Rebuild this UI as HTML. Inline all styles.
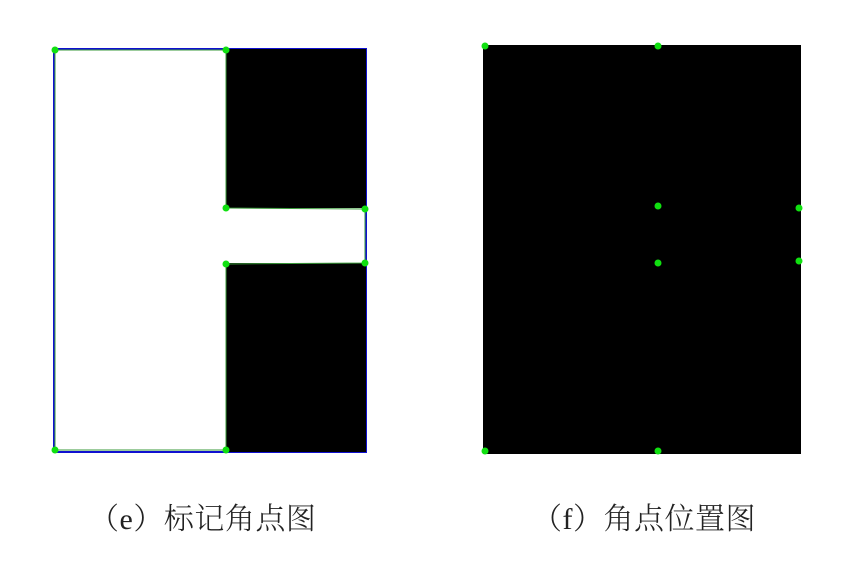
<!DOCTYPE html>
<html><head><meta charset="utf-8"><style>
html,body{margin:0;padding:0;background:#fff;width:860px;height:562px;overflow:hidden}
svg{display:block}
text{font-family:"Liberation Serif","Noto Serif CJK SC",serif;font-size:30px;fill:#222;font-weight:300;letter-spacing:0.5px}
</style></head><body>
<svg id="fig" width="860" height="562">
<g>
<rect x="54" y="49" width="312" height="403" fill="#fff" stroke="#1010d0" stroke-width="2"/>
<rect x="226" y="49" width="140" height="159" fill="#000"/>
<rect x="226" y="263" width="140" height="189" fill="#000"/>
<polyline points="55,50 226,50 226,208 365,209 365,263 226,264 226,450 55,450 55,50" fill="none" stroke="#3a9a3a" stroke-width="1"/>
<g id="dotsE"></g>
</g>
<g>
<rect x="483" y="45" width="318" height="409" fill="#000"/>
<g id="dotsF"></g>
</g>
<text x="89" y="529">（e）标记角点图</text>
<text x="532" y="529">（f）角点位置图</text>
</svg>
<script>
const cornersEX=[55,226,226,365,226,365,55,226];
const cornersEY=[50,50,208,209,264,263,450,450];
const cornersFX=[485,658,658,799,658,799,485,658];
const cornersFY=[46,46,206,208,263,261,451,451];
const NS='http://www.w3.org/2000/svg';
function draw(gid,xs,ys){
  const g=document.getElementById(gid);
  for(let i=0;i<xs.length;i++){
    const c=document.createElementNS(NS,'circle');
    c.setAttribute('cx',xs[i]);c.setAttribute('cy',ys[i]);c.setAttribute('r',3.5);
    c.setAttribute('fill','#10e010');
    
    
    g.appendChild(c);
  }
}
draw('dotsE',cornersEX,cornersEY);
draw('dotsF',cornersFX,cornersFY);
</script>
</body></html>
